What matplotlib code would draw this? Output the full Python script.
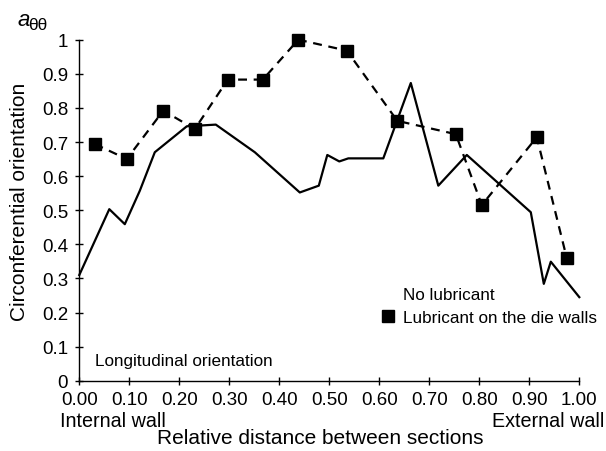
import matplotlib
matplotlib.use("Agg")
import matplotlib.pyplot as plt
from matplotlib.lines import Line2D

plt.rcParams['font.family'] = ['Liberation Sans', 'DejaVu Sans']

# No lubricant (solid line)
x_dry = [0.0, 0.060, 0.091, 0.121, 0.151, 0.215, 0.273, 0.351, 0.441, 0.479,
         0.496, 0.520, 0.538, 0.608, 0.663, 0.718, 0.775, 0.903, 0.929, 0.943, 1.0]
y_dry = [0.31, 0.503, 0.459, 0.557, 0.670, 0.746, 0.751, 0.670, 0.552, 0.572,
         0.662, 0.643, 0.652, 0.652, 0.873, 0.572, 0.662, 0.494, 0.284, 0.349, 0.245]

# Lubricant on the die walls (dashed, squares)
x_lub = [0.031, 0.095, 0.168, 0.231, 0.297, 0.367, 0.438, 0.535, 0.636, 0.753,
         0.805, 0.915, 0.975]
y_lub = [0.694, 0.650, 0.792, 0.738, 0.883, 0.883, 1.0, 0.968, 0.762, 0.723,
         0.515, 0.714, 0.359]

xticks = [0.0, 0.1, 0.2, 0.3, 0.4, 0.5, 0.6, 0.7, 0.8, 0.9, 1.0]
yticks = [0.0, 0.1, 0.2, 0.3, 0.4, 0.5, 0.6, 0.7, 0.8, 0.9, 1.0]
ytick_labels = ['0', '0.1', '0.2', '0.3', '0.4', '0.5', '0.6', '0.7', '0.8', '0.9', '1']

W, H = 606, 452
fig = plt.figure(figsize=(W / 100, H / 100), dpi=100)
ax = fig.add_axes([79.3 / W, 1 - 381.7 / H, 500 / W, 341 / H])

ax.plot(x_dry, y_dry, color='black', lw=1.6, clip_on=False)
ax.plot(x_lub, y_lub, color='black', lw=1.6, dashes=(4, 3), marker='s',
        markersize=9, clip_on=False)

ax.set_xlim(0, 1)
ax.set_ylim(0, 1)
ax.set_xticks(xticks)
ax.set_xticklabels(['%.2f' % v for v in xticks])
ax.set_yticks(yticks)
ax.set_yticklabels(ytick_labels)
ax.tick_params(direction='inout', length=6, width=1, labelsize=13.5)
ax.tick_params(axis='x', pad=4.5)
ax.tick_params(axis='y', pad=5)
for s in ['top', 'right']:
    ax.spines[s].set_visible(False)
for s in ['left', 'bottom']:
    ax.spines[s].set_linewidth(1)

ax.text(0.031, 0.059, 'Longitudinal orientation', fontsize=12.3, va='center', ha='left')

fig.text(60 / W, 1 - 421.5 / H, 'Internal wall', fontsize=14.2, ha='left', va='center')
fig.text(604 / W, 1 - 421.5 / H, 'External wall', fontsize=14.2, ha='right', va='center')
fig.text(320 / W, 1 - 439 / H, 'Relative distance between sections', fontsize=15,
         ha='center', va='center')
fig.text(20 / W, 1 - 202 / H, 'Circonferential orientation', fontsize=15,
         ha='center', va='center', rotation=90)
fig.text(17 / W, 1 - 20 / H, 'a', fontsize=16, style='italic', ha='left', va='center')
fig.text(28.5 / W, 1 - 25 / H, 'θθ', fontsize=12.5, ha='left', va='center')

handles = [Line2D([], [], linestyle='none'),
           Line2D([], [], linestyle='none', marker='s', color='black', markersize=9)]
ax.legend(handles, ['No lubricant', 'Lubricant on the die walls'], frameon=False,
          loc='upper left', bbox_to_anchor=(379 / W, 1 - 288 / H),
          bbox_transform=fig.transFigure, fontsize=12.3, handlelength=1.0,
          handletextpad=0.4, labelspacing=0.45, borderpad=0, borderaxespad=0)

fig.savefig('out.png', dpi=100)
